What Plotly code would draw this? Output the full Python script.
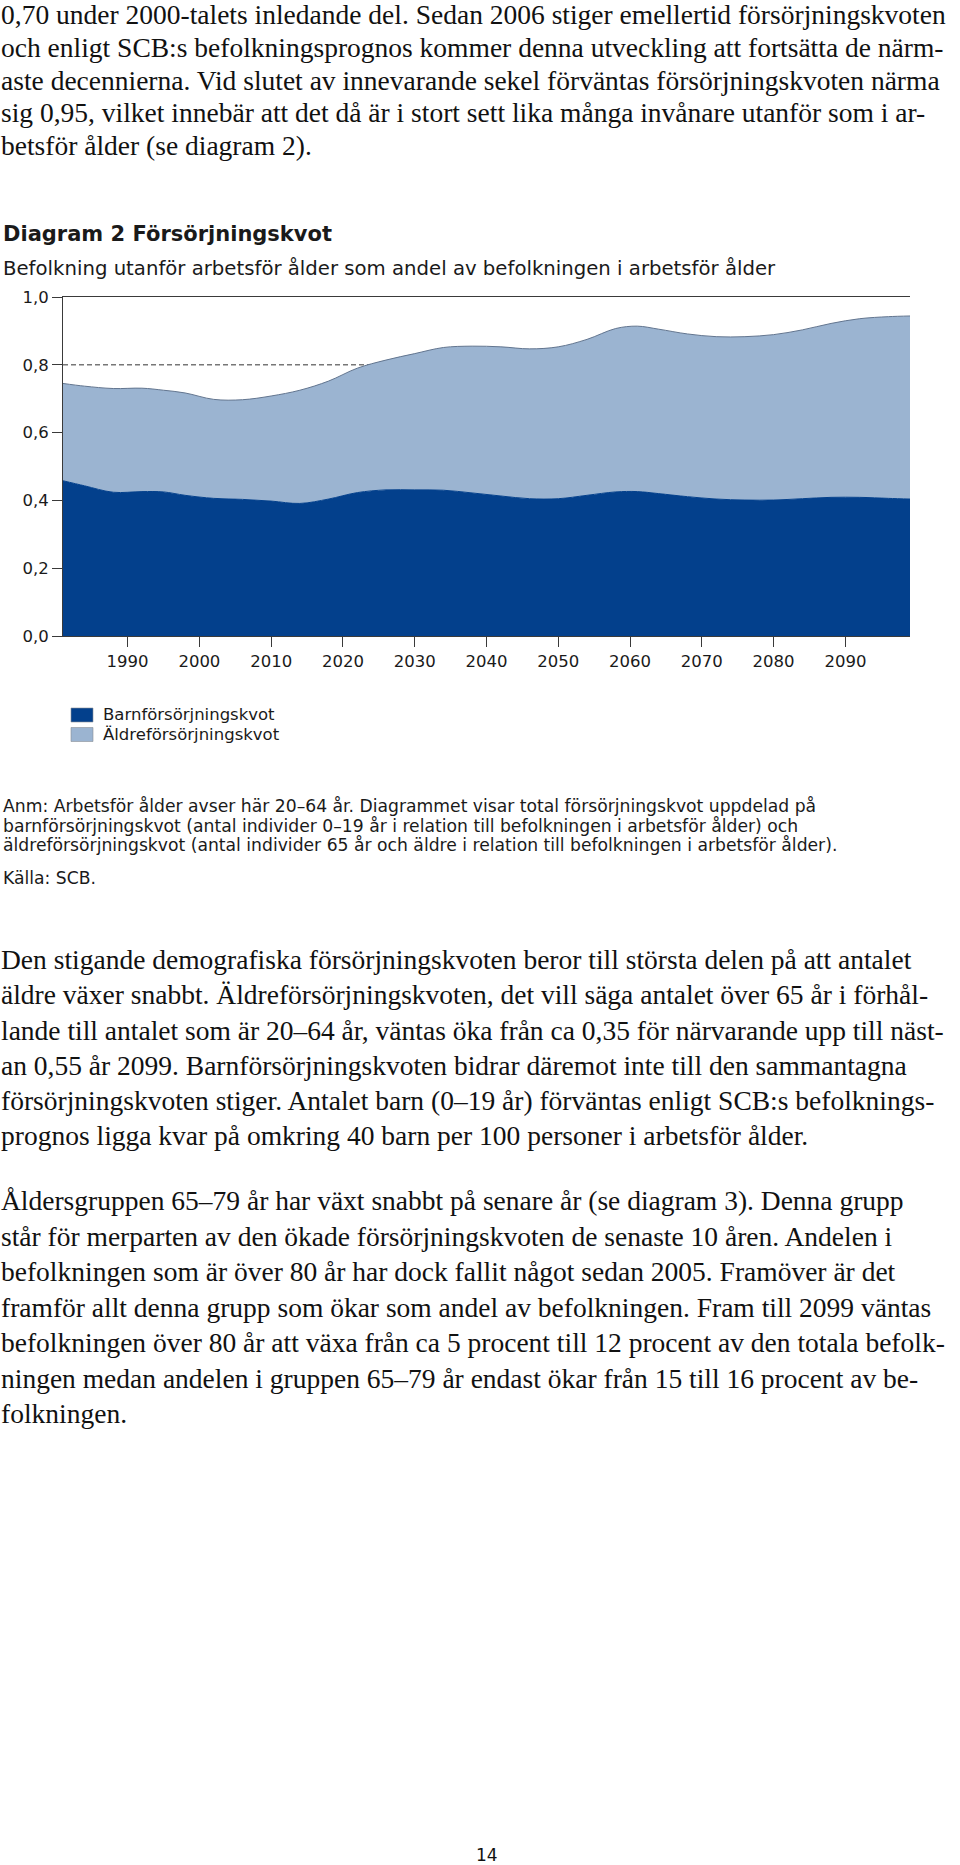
import plotly.graph_objects as go

# ---------------- data ----------------
years = [1981, 1984, 1988, 1992, 1995, 1998, 2002, 2006, 2010, 2014, 2018, 2022,
         2026, 2030, 2034, 2038, 2042, 2046, 2050, 2054, 2058, 2061, 2064, 2068,
         2072, 2076, 2080, 2084, 2088, 2092, 2096, 2099]
barn = [0.458, 0.443, 0.424, 0.426, 0.425, 0.415, 0.406, 0.403, 0.398, 0.391, 0.404, 0.423,
        0.431, 0.431, 0.430, 0.422, 0.413, 0.405, 0.405, 0.415, 0.425, 0.426, 0.420, 0.411,
        0.404, 0.401, 0.401, 0.405, 0.409, 0.409, 0.406, 0.404]
aldre = [0.287, 0.294, 0.306, 0.305, 0.300, 0.302, 0.292, 0.294, 0.310, 0.334, 0.348, 0.367,
         0.383, 0.402, 0.421, 0.433, 0.440, 0.442, 0.448, 0.460, 0.482, 0.488, 0.485, 0.480,
         0.479, 0.482, 0.488, 0.498, 0.513, 0.527, 0.536, 0.540]
series_names = ["Barnförsörjningskvot", "Äldreförsörjningskvot"]
xtick_vals = [1990, 2000, 2010, 2020, 2030, 2040, 2050, 2060, 2070, 2080, 2090]
xtick_text = ["1990", "2000", "2010", "2020", "2030", "2040", "2050", "2060", "2070", "2080", "2090"]
ytick_vals = [0.0, 0.2, 0.4, 0.6, 0.8, 1.0]
ytick_text = ["0,0", "0,2", "0,4", "0,6", "0,8", "1,0"]
ref_level = 0.8

para1 = [
    "0,70 under 2000-talets inledande del. Sedan 2006 stiger emellertid försörjningskvoten",
    "och enligt SCB:s befolkningsprognos kommer denna utveckling att fortsätta de närm-",
    "aste decennierna. Vid slutet av innevarande sekel förväntas försörjningskvoten närma",
    "sig 0,95, vilket innebär att det då är i stort sett lika många invånare utanför som i ar-",
    "betsför ålder (se diagram 2).",
]
title = "Diagram 2 Försörjningskvot"
subtitle = "Befolkning utanför arbetsför ålder som andel av befolkningen i arbetsför ålder"
notes = [
    "Anm: Arbetsför ålder avser här 20–64 år. Diagrammet visar total försörjningskvot uppdelad på",
    "barnförsörjningskvot (antal individer 0–19 år i relation till befolkningen i arbetsför ålder) och",
    "äldreförsörjningskvot (antal individer 65 år och äldre i relation till befolkningen i arbetsför ålder).",
]
source = "Källa: SCB."
para2 = [
    "Den stigande demografiska försörjningskvoten beror till största delen på att antalet",
    "äldre växer snabbt. Äldreförsörjningskvoten, det vill säga antalet över 65 år i förhål-",
    "lande till antalet som är 20–64 år, väntas öka från ca 0,35 för närvarande upp till näst-",
    "an 0,55 år 2099. Barnförsörjningskvoten bidrar däremot inte till den sammantagna",
    "försörjningskvoten stiger. Antalet barn (0–19 år) förväntas enligt SCB:s befolknings-",
    "prognos ligga kvar på omkring 40 barn per 100 personer i arbetsför ålder.",
]
para3 = [
    "Åldersgruppen 65–79 år har växt snabbt på senare år (se diagram 3). Denna grupp",
    "står för merparten av den ökade försörjningskvoten de senaste 10 åren. Andelen i",
    "befolkningen som är över 80 år har dock fallit något sedan 2005. Framöver är det",
    "framför allt denna grupp som ökar som andel av befolkningen. Fram till 2099 väntas",
    "befolkningen över 80 år att växa från ca 5 procent till 12 procent av den totala befolk-",
    "ningen medan andelen i gruppen 65–79 år endast ökar från 15 till 16 procent av be-",
    "folkningen.",
]
page_no = "14"

# ---------------- styling ----------------
W, H = 960, 1865
PL, PR, PT, PB = 63, 910, 297, 636  # plot area in pixels
DARK = "#03408c"
LIGHT = "#9bb4d1"
EDGE = "#62758f"
AXIS = "#3a3a3a"
SERIF = "Liberation Serif, Times New Roman, serif"
SANS = "DejaVu Sans, Verdana, sans-serif"

fig = go.Figure()
fig.add_trace(go.Scatter(
    x=years, y=barn, name=series_names[0], stackgroup="s", mode="lines",
    line=dict(color=DARK, width=1, shape="spline", smoothing=1),
    fillcolor=DARK, showlegend=False, hoverinfo="x+y"))
fig.add_trace(go.Scatter(
    x=years, y=aldre, name=series_names[1], stackgroup="s", mode="lines",
    line=dict(color=EDGE, width=1, shape="spline", smoothing=1),
    fillcolor=LIGHT, showlegend=False, hoverinfo="x+y"))

tickfont = dict(family=SANS, size=16.5, color="#1a1a1a")
common_y = dict(domain=[1 - PB / H, 1 - PT / H], range=[0, 1],
                tickmode="array", tickvals=ytick_vals, ticktext=ytick_text,
                ticks="outside", ticklen=10, tickcolor=AXIS, tickwidth=1,
                showline=True, linecolor=AXIS, linewidth=1,
                showgrid=False, zeroline=False, tickfont=tickfont, automargin=False)
fig.update_layout(
    width=W, height=H,
    margin=dict(l=0, r=0, t=0, b=0),
    paper_bgcolor="white", plot_bgcolor="white",
    showlegend=False,
    xaxis=dict(domain=[PL / W, PR / W], range=[years[0], years[-1]],
               tickmode="array", tickvals=xtick_vals, ticktext=xtick_text,
               ticks="outside", ticklen=10, tickcolor=AXIS, tickwidth=1,
               showline=True, linecolor=AXIS, linewidth=1, mirror=True,
               showgrid=False, zeroline=False, tickfont=tickfont, automargin=False),
    yaxis=dict(**common_y),
    yaxis2=dict(**common_y, overlaying="y", side="right", anchor="x"),
)

# reference dashed line at 0.8 (drawn beneath the areas)
fig.add_shape(type="line", xref="x domain", yref="y", x0=0, x1=1, y0=ref_level, y1=ref_level,
              line=dict(color="#777777", width=1.5, dash="5px,3px"), layer="below")


def txt(s, xpx, base_px, size, family, color="#111111", bold=False, xanchor="left"):
    fig.add_annotation(
        text=("<b>%s</b>" % s) if bold else s,
        xref="paper", yref="paper", x=xpx / W, y=1 - (base_px - 0.34 * size) / H,
        xanchor=xanchor, yanchor="middle", showarrow=False, align="left",
        font=dict(family=family, size=size, color=color), borderpad=0)


# body paragraphs
BODY = 27.5
para1_base = [24, 57, 89.5, 122, 155]
for line, b in zip(para1, para1_base):
    txt(line, 0, b, BODY, SERIF)
for i, line in enumerate(para2):
    txt(line, 0, 969 + i * 35.2, BODY, SERIF)
for i, line in enumerate(para3):
    txt(line, 0, 1210 + i * 35.5, BODY, SERIF)

# chart title & subtitle
txt(title, 2, 241.5, 21, SANS, "#1a1a1a", bold=True)
txt(subtitle, 2, 275, 19.7, SANS, "#1a1a1a")

# legend
legend_y = [715, 734.5]
legend_base = [720.5, 740]
legend_col = [DARK, LIGHT]
for name, yc, yb, col in zip(series_names, legend_y, legend_base, legend_col):
    fig.add_shape(type="rect", xref="paper", yref="paper",
                  x0=71 / W, x1=93 / W, y0=1 - (yc + 7) / H, y1=1 - (yc - 7) / H,
                  fillcolor=col, line=dict(color="#8a8f96", width=0.6))
    txt(name, 102, yb, 16.5, SANS, "#1a1a1a")

# notes and source
for i, line in enumerate(notes):
    txt(line, 2, 812 + i * 19.6, 17.2, SANS, "#1a1a1a")
txt(source, 2, 884, 17.2, SANS, "#1a1a1a")

# page number
txt(page_no, 487, 1860.5, 17, SANS, "#111111", xanchor="center")

fig.write_html("out.html", config={"displayModeBar": False},
               post_script="document.body.style.margin='0px';")
